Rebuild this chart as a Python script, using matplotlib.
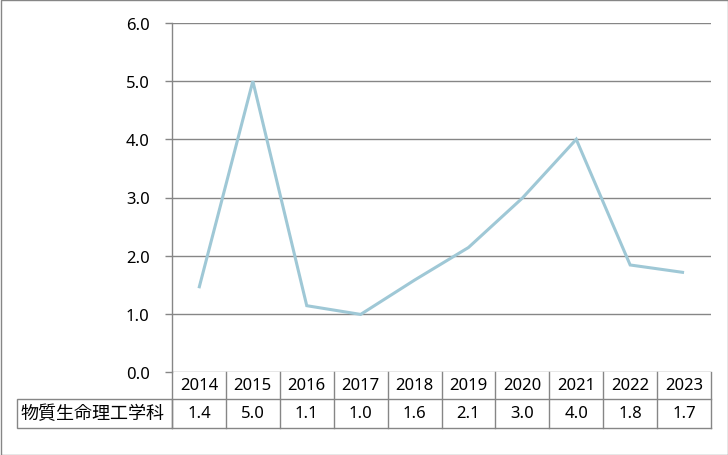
import matplotlib
matplotlib.use("Agg")
import matplotlib.pyplot as plt
from matplotlib.lines import Line2D
from matplotlib.patches import Rectangle

plt.rcParams['font.family'] = ['Noto Sans', 'Noto Sans CJK JP', 'DejaVu Sans']

# data
years = ["2014", "2015", "2016", "2017", "2018", "2019", "2020", "2021", "2022", "2023"]
values = [1.44, 5.0, 1.14, 0.99, 1.58, 2.14, 2.99, 4.0, 1.84, 1.71]
series_name = "物質生命理工学科"
y_ticks = [0.0, 1.0, 2.0, 3.0, 4.0, 5.0, 6.0]

W, H = 728, 456
fig = plt.figure(figsize=(W / 100, H / 100), dpi=100)

# plot area in pixels (left, top, right, bottom)
left, top, right, bottom = 172, 24, 711, 373
ax = fig.add_axes([left / W, 1 - bottom / H, (right - left) / W, (bottom - top) / H])

grid_col = "#868686"
line_col = "#9fc8d6"
num_size = 12

xs = list(range(len(years)))
ax.plot(xs, values, color=line_col, linewidth=2.2, solid_joinstyle="miter", solid_capstyle="butt")

ax.set_xlim(-0.5, len(years) - 0.5)
ax.set_ylim(0, 6)
ax.set_yticks(y_ticks)
ax.set_yticklabels([f"{t:.1f}" for t in y_ticks], fontsize=num_size)
ax.tick_params(axis="y", length=5, width=1, color=grid_col, pad=11)
ax.set_xticks([])
ax.grid(axis="y", color=grid_col, linewidth=1)
ax.set_axisbelow(True)
for s in ["top", "right", "bottom"]:
    ax.spines[s].set_visible(False)
ax.spines["left"].set_color(grid_col)
ax.spines["left"].set_linewidth(1)

# data table below the plot, in x-data / axes-fraction units
ph = bottom - top
row1 = (bottom - 400) / ph     # header row bottom
row2 = (bottom - 429) / ph     # value row bottom
trans = ax.get_xaxis_transform()
lw = 1

def hline(x0, x1, y):
    ax.add_line(Line2D([x0, x1], [y, y], transform=trans, color=grid_col, lw=lw, clip_on=False))

def vline(x, y0, y1):
    ax.add_line(Line2D([x, x], [y0, y1], transform=trans, color=grid_col, lw=lw, clip_on=False))

xmin, xmax = -0.5, len(years) - 0.5
hline(xmin, xmax, row1)
hline(xmin, xmax, row2)
vline(xmin, 0, row2)
for i in range(len(years)):
    vline(i + 0.5, 0, row2)
    ax.text(i, (0 + row1) / 2, years[i], transform=trans, ha="center", va="center",
            fontsize=num_size, clip_on=False)
    ax.text(i, (row1 + row2) / 2, f"{values[i]:.1f}", transform=trans, ha="center",
            va="center", fontsize=num_size, clip_on=False)

# series name cell to the left of the table
lab_left = 17 / W
lab_w = (left - 17) / W
fig.add_artist(Rectangle((lab_left, 1 - 429 / H), lab_w, 29 / H, transform=fig.transFigure,
                         fill=False, edgecolor=grid_col, linewidth=lw))
fig.text(20 / W, 1 - 414.5 / H, series_name, ha="left", va="center", fontsize=13,
         family=['Noto Sans CJK JP', 'DejaVu Sans'])

# outer chart border
fig.add_artist(Rectangle((0.5 / W, 0.5 / H), (W - 1) / W, (H - 1) / H, transform=fig.transFigure,
                         fill=False, edgecolor=grid_col, linewidth=1))

fig.savefig("out.png", dpi=100)
